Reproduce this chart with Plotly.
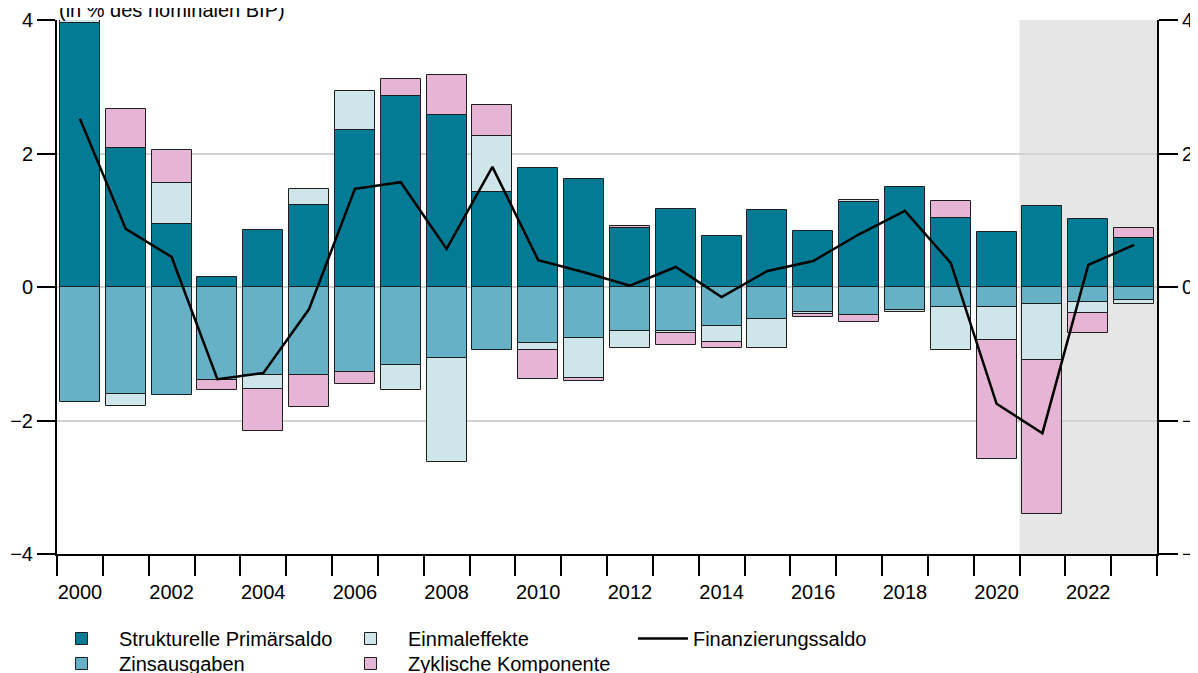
import plotly.graph_objects as go

years = [2000, 2001, 2002, 2003, 2004, 2005, 2006, 2007, 2008, 2009, 2010, 2011,
         2012, 2013, 2014, 2015, 2016, 2017, 2018, 2019, 2020, 2021, 2022, 2023]
tick_years = [2000, 2002, 2004, 2006, 2008, 2010, 2012, 2014, 2016, 2018, 2020, 2022]

struct_primaersaldo = [3.95, 2.08, 0.94, 0.15, 0.85, 1.23, 2.35, 2.86, 2.58, 1.42, 1.78, 1.62,
                       0.88, 1.17, 0.76, 1.16, 0.84, 1.27, 1.50, 1.03, 0.82, 1.21, 1.02, 0.73]
zinsausgaben = [-1.72, -1.60, -1.62, -1.39, -1.32, -1.32, -1.28, -1.17, -1.07, -0.94, -0.84, -0.77,
                -0.66, -0.66, -0.58, -0.48, -0.37, -0.42, -0.34, -0.30, -0.30, -0.26, -0.23, -0.20]
einmaleffekte = [0.20, -0.18, 0.62, None, -0.21, 0.24, 0.59, -0.37, -1.55, 0.84, -0.10, -0.60,
                 -0.25, -0.03, -0.24, -0.43, -0.03, 0.03, -0.03, -0.64, -0.50, -0.83, -0.16, -0.05]
zyklische_komponente = [None, 0.59, 0.49, -0.15, -0.63, -0.48, -0.18, 0.26, 0.60, 0.47, -0.44, -0.04,
                        0.03, -0.18, -0.09, -0.01, -0.05, -0.10, None, 0.26, -1.78, -2.31, -0.30, 0.15]
finanzierungssaldo = [2.52, 0.87, 0.45, -1.38, -1.29, -0.33, 1.47, 1.57, 0.57, 1.80, 0.40, 0.22,
                      0.02, 0.30, -0.15, 0.24, 0.39, 0.79, 1.14, 0.36, -1.75, -2.19, 0.33, 0.63]

FONT = "Liberation Sans, Arial, Helvetica, sans-serif"
FS = 20
outline = dict(color="#1e1e1e", width=1)

# the page body adds an 8 px margin, so the figure is sized to fill the rest of the window
W, H = 1190, 665

fig = go.Figure()
bar_specs = [
    ("Strukturelle Primärsaldo", struct_primaersaldo, "#037B94", "legend"),
    ("Zinsausgaben", zinsausgaben, "#66B1C5", "legend2"),
    ("Einmaleffekte", einmaleffekte, "#CEE5EA", "legend3"),
    ("Zyklische Komponente", zyklische_komponente, "#E6B4D4", "legend4"),
]
for name, vals, col, lg in bar_specs:
    fig.add_trace(go.Bar(x=years, y=vals, name=name, marker=dict(color=col, line=outline),
                         width=0.87, legend=lg))

fig.add_trace(go.Scatter(x=years, y=finanzierungssaldo, mode="lines", name="Finanzierungssaldo",
                         line=dict(color="black", width=2.5), legend="legend5"))
# invisible trace to draw the right-hand axis
fig.add_trace(go.Scatter(x=[years[0]], y=[0], yaxis="y2", mode="markers",
                         marker=dict(opacity=0), showlegend=False, hoverinfo="skip"))

boundaries = [y - 0.5 for y in years] + [years[-1] + 0.5]

row1 = (H - 630.5) / H
row2 = (H - 655.5) / H


def leg(x, y, iw=65):
    return dict(x=x, xanchor="left", y=y, yref="container", yanchor="middle",
                itemwidth=iw, tracegroupgap=0, font=dict(size=FS), bgcolor="rgba(0,0,0,0)")


fig.update_layout(
    width=W, height=H,
    barmode="relative",
    bargap=0,
    plot_bgcolor="white", paper_bgcolor="white",
    font=dict(family=FONT, size=FS, color="black"),
    margin=dict(l=49, r=41, t=12, b=119, autoexpand=False),
    xaxis=dict(range=[1999.5, 2023.5], tickvals=tick_years, ticktext=[str(t) for t in tick_years],
               ticks="outside", ticklen=15, tickcolor="rgba(0,0,0,0)", ticklabelstandoff=4,
               showline=True, linecolor="black", linewidth=2, showgrid=False, zeroline=False,
               automargin=False,
               minor=dict(tickvals=boundaries, ticks="outside", ticklen=20, tickcolor="black",
                          tickwidth=2, showgrid=False)),
    yaxis=dict(range=[-4, 4], tickvals=[-4, -2, 0, 2, 4], ticks="outside", ticklen=18,
               tickwidth=2, tickcolor="black", showline=True, linecolor="black", linewidth=2,
               showgrid=True, gridcolor="#D2D2D2", gridwidth=2, zeroline=False,
               ticklabelstandoff=0, automargin=False),
    yaxis2=dict(range=[-4, 4], tickvals=[-4, -2, 0, 2, 4], overlaying="y", side="right",
                ticks="outside", ticklen=19, tickwidth=2, tickcolor="black", showline=True,
                linecolor="black", linewidth=2, showgrid=False, zeroline=False,
                ticklabelstandoff=0, automargin=False),
    shapes=[dict(type="rect", xref="x", yref="paper", x0=2020.5, x1=2023.5, y0=0, y1=1,
                 fillcolor="#E6E6E6", line=dict(width=0), layer="below")],
    annotations=[dict(text="(in % des nominalen BIP)", xref="paper", yref="paper", x=0, y=1,
                      xanchor="left", yanchor="bottom", yshift=-3, showarrow=False,
                      font=dict(size=FS))],
    legend=leg(-0.0118, row1),
    legend2=leg(-0.0118, row2),
    legend3=leg(0.2509, row1),
    legend4=leg(0.2509, row2),
    legend5=leg(0.5236, row1, iw=50),
    showlegend=True,
)

fig.write_html("out.html")
